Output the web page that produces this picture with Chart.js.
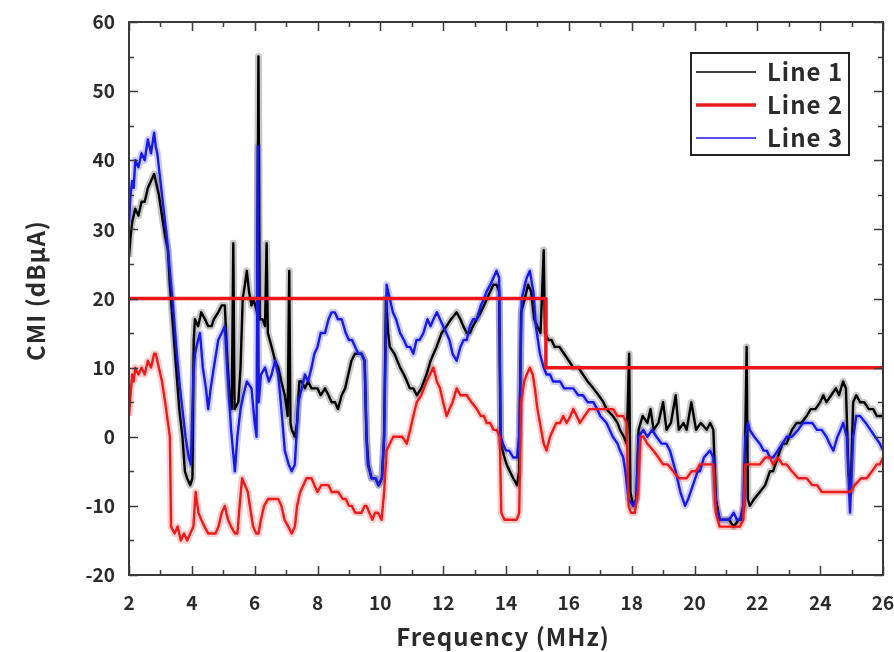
<!DOCTYPE html>
<html>
<head>
<meta charset="utf-8">
<title>CMI</title>
<script src="https://cdn.jsdelivr.net/npm/chart.js@4.4.0/dist/chart.umd.min.js"></script>
<style>
  html, body { margin: 0; padding: 0; background: #fff; }
  #wrap { width: 894px; height: 652px; }
</style>
</head>
<body>
<div id="wrap"><canvas id="cmiChart"></canvas></div>
<script>
// Axis ticks
const xTicks = [2, 4, 6, 8, 10, 12, 14, 16, 18, 20, 22, 24, 26];
const yTicks = [-20, -10, 0, 10, 20, 30, 40, 50, 60];

// Limit line (dBuA), step at ~15.3 MHz
const limitLine = [[2, 20], [15.27, 20], [15.27, 10], [26, 10]];

// Line 1 (black) [MHz, dBuA]
const line1 = [
  [2.00, 26], [2.05, 29], [2.10, 31], [2.20, 33], [2.30, 32], [2.40, 34], [2.50, 34], [2.60, 36],
  [2.70, 37], [2.80, 38], [2.85, 37], [2.95, 35], [3.05, 32], [3.15, 29], [3.24, 27], [3.30, 22],
  [3.40, 16], [3.50, 10], [3.60, 4], [3.70, 0], [3.78, -5], [3.85, -6], [3.95, -7], [4.02, -6],
  [4.06, 14], [4.10, 17], [4.20, 16], [4.30, 18], [4.42, 17], [4.52, 16], [4.63, 16], [4.70, 17],
  [4.84, 18], [4.95, 19], [5.05, 19], [5.12, 12], [5.20, 6], [5.27, 4], [5.32, 28], [5.36, 4],
  [5.48, 5], [5.55, 10], [5.62, 20], [5.69, 22], [5.75, 24], [5.82, 21], [5.90, 19], [5.95, 20],
  [6.02, 19], [6.08, 18], [6.12, 55], [6.16, 17], [6.25, 17], [6.33, 16], [6.38, 28], [6.42, 15],
  [6.54, 13], [6.65, 11], [6.75, 10], [6.85, 8], [6.96, 6], [7.05, 3], [7.10, 24], [7.14, 2],
  [7.18, 1], [7.28, 0], [7.35, 2], [7.42, 8], [7.50, 8], [7.60, 7], [7.70, 8], [7.81, 7],
  [7.90, 7], [8.00, 7], [8.10, 6], [8.24, 7], [8.35, 6], [8.45, 5], [8.56, 5], [8.65, 4],
  [8.77, 6], [8.88, 7], [8.98, 9], [9.08, 11], [9.19, 12], [9.30, 12], [9.40, 12], [9.50, 11],
  [9.56, 0], [9.62, -4], [9.72, -6], [9.85, -6], [9.95, -7], [10.05, -6], [10.12, 0], [10.18, 20],
  [10.25, 15], [10.30, 13], [10.45, 12], [10.63, 10], [10.75, 9], [10.85, 8], [10.94, 7], [11.05, 7],
  [11.16, 6], [11.30, 7], [11.47, 9], [11.60, 11], [11.79, 13], [11.95, 15], [12.11, 16], [12.25, 17],
  [12.43, 18], [12.55, 17], [12.64, 16], [12.75, 15], [12.85, 15], [12.95, 16], [13.07, 17], [13.20, 18],
  [13.30, 19], [13.40, 20], [13.50, 21], [13.60, 22], [13.70, 22], [13.78, 21], [13.83, -1], [13.95, -3],
  [14.02, -4], [14.12, -5], [14.23, -6], [14.35, -7], [14.42, -5], [14.48, 18], [14.60, 20], [14.70, 22],
  [14.80, 21], [14.90, 17], [15.00, 16], [15.10, 15], [15.20, 27], [15.24, 15], [15.35, 14], [15.45, 14],
  [15.55, 13], [15.70, 13], [15.85, 12], [16.00, 11], [16.14, 10], [16.30, 10], [16.45, 9], [16.60, 8],
  [16.78, 7], [16.95, 6], [17.10, 5], [17.20, 4], [17.40, 3], [17.55, 2], [17.63, 1], [17.75, 0],
  [17.84, -1], [17.92, 12], [17.96, -8], [18.05, -10], [18.15, -9], [18.22, 1], [18.35, 3], [18.50, 2],
  [18.60, 4], [18.70, 1], [18.85, 2], [19.00, 5], [19.11, 1], [19.25, 2], [19.40, 6], [19.50, 1],
  [19.65, 2], [19.75, 1], [19.90, 5], [20.05, 1], [20.20, 2], [20.39, 1], [20.50, 2], [20.60, 1],
  [20.68, -9], [20.80, -12], [20.95, -12], [21.10, -12], [21.25, -13], [21.40, -12], [21.50, -12], [21.58, -10],
  [21.66, 13], [21.70, -9], [21.76, -10], [21.90, -9], [22.08, -8], [22.25, -7], [22.40, -5], [22.50, -5],
  [22.65, -3], [22.80, -1], [22.93, -1], [23.10, 1], [23.25, 2], [23.40, 2], [23.57, 3], [23.70, 4],
  [23.85, 4], [24.00, 5], [24.10, 6], [24.20, 5], [24.35, 6], [24.50, 7], [24.60, 6], [24.73, 8],
  [24.82, 7], [24.90, -5], [24.97, -8], [25.05, 5], [25.15, 6], [25.27, 5], [25.40, 5], [25.55, 4],
  [25.69, 4], [25.80, 3], [25.90, 3], [26.00, 3]
];

// Line 2 (red) [MHz, dBuA]
const line2 = [
  [2.00, 3], [2.05, 6], [2.10, 9], [2.15, 8], [2.20, 10], [2.30, 9], [2.40, 10], [2.50, 9],
  [2.60, 11], [2.70, 10], [2.80, 12], [2.85, 12], [2.95, 10], [3.05, 8], [3.15, 5], [3.24, 2],
  [3.30, 0], [3.34, -13], [3.45, -14], [3.55, -13], [3.65, -15], [3.75, -14], [3.85, -15], [3.95, -14],
  [4.05, -13], [4.12, -8], [4.21, -11], [4.30, -12], [4.40, -13], [4.52, -14], [4.63, -14], [4.75, -14],
  [4.85, -13], [4.95, -11], [5.05, -10], [5.15, -12], [5.25, -13], [5.37, -14], [5.45, -14], [5.52, -10],
  [5.60, -6], [5.69, -7], [5.78, -8], [5.88, -11], [5.95, -13], [6.05, -14], [6.12, -14], [6.20, -12],
  [6.30, -10], [6.43, -9], [6.55, -9], [6.65, -9], [6.75, -9], [6.85, -10], [6.95, -12], [7.07, -13],
  [7.18, -14], [7.28, -13], [7.35, -10], [7.45, -8], [7.55, -7], [7.65, -6], [7.81, -6], [7.90, -7],
  [8.00, -8], [8.12, -7], [8.24, -7], [8.35, -7], [8.45, -8], [8.56, -8], [8.66, -8], [8.80, -9],
  [8.90, -9], [9.00, -10], [9.09, -10], [9.20, -11], [9.30, -11], [9.40, -11], [9.50, -10], [9.56, -10],
  [9.65, -11], [9.75, -12], [9.83, -11], [9.93, -11], [10.04, -12], [10.12, -8], [10.20, -2], [10.30, -1],
  [10.41, 0], [10.55, 0], [10.70, 0], [10.84, -1], [10.95, 1], [11.05, 3], [11.16, 5], [11.30, 6],
  [11.47, 8], [11.58, 9], [11.69, 10], [11.80, 8], [11.90, 7], [12.00, 5], [12.11, 3], [12.20, 4],
  [12.30, 5], [12.43, 7], [12.55, 6], [12.65, 6], [12.75, 6], [12.90, 5], [13.07, 4], [13.20, 3],
  [13.30, 3], [13.38, 2], [13.50, 2], [13.60, 1], [13.70, 1], [13.80, 0], [13.85, -11], [13.95, -12],
  [14.05, -12], [14.20, -12], [14.34, -12], [14.42, -11], [14.48, 5], [14.58, 8], [14.66, 9], [14.76, 10],
  [14.85, 9], [14.92, 7], [15.00, 4], [15.08, 2], [15.20, -1], [15.29, -2], [15.40, 0], [15.50, 1],
  [15.60, 2], [15.72, 2], [15.82, 3], [15.93, 2], [16.05, 3], [16.14, 4], [16.25, 3], [16.35, 2],
  [16.50, 3], [16.65, 4], [16.78, 4], [16.90, 4], [17.05, 4], [17.20, 4], [17.41, 4], [17.55, 3],
  [17.73, 3], [17.84, 2], [17.90, -10], [17.98, -11], [18.10, -11], [18.20, -8], [18.28, 0], [18.37, 0],
  [18.50, -1], [18.69, -2], [18.85, -3], [19.00, -4], [19.15, -4], [19.32, -5], [19.50, -6], [19.60, -6],
  [19.75, -6], [19.90, -5], [20.05, -5], [20.17, -4], [20.35, -4], [20.50, -4], [20.60, -4], [20.68, -11],
  [20.80, -13], [20.90, -13], [21.05, -13], [21.20, -13], [21.30, -13], [21.45, -13], [21.55, -12], [21.62, -4],
  [21.76, -4], [21.90, -4], [22.08, -4], [22.25, -3], [22.40, -3], [22.50, -4], [22.65, -3], [22.80, -4],
  [22.93, -4], [23.10, -5], [23.30, -6], [23.45, -6], [23.57, -6], [23.75, -7], [23.90, -7], [24.05, -8],
  [24.20, -8], [24.35, -8], [24.50, -8], [24.63, -8], [24.80, -8], [24.95, -8], [25.10, -7], [25.30, -6],
  [25.48, -6], [25.65, -5], [25.80, -4], [25.90, -4], [26.00, -3]
];

// Line 3 (blue) [MHz, dBuA]
const line3 = [
  [2.00, 31], [2.05, 35], [2.10, 37], [2.15, 36], [2.20, 40], [2.30, 39], [2.40, 41], [2.50, 40],
  [2.60, 43], [2.70, 41], [2.80, 44], [2.85, 42], [2.90, 41], [3.00, 37], [3.10, 33], [3.20, 29],
  [3.30, 24], [3.40, 19], [3.50, 13], [3.60, 8], [3.70, 4], [3.80, 0], [3.90, -3], [3.97, -4],
  [4.05, 9], [4.10, 12], [4.20, 14], [4.26, 15], [4.35, 10], [4.45, 7], [4.52, 4], [4.60, 7],
  [4.70, 10], [4.84, 14], [4.95, 15], [5.05, 16], [5.15, 8], [5.25, 1], [5.37, -5], [5.45, 0],
  [5.55, 4], [5.64, 6], [5.75, 8], [5.90, 7], [6.00, 2], [6.06, 0], [6.10, 42], [6.13, 5],
  [6.20, 9], [6.33, 10], [6.45, 8], [6.54, 9], [6.65, 11], [6.75, 9], [6.85, 4], [6.96, -2],
  [7.08, -4], [7.18, -5], [7.28, -4], [7.39, 5], [7.50, 7], [7.60, 9], [7.70, 8], [7.81, 10],
  [7.90, 12], [8.00, 13], [8.10, 15], [8.24, 15], [8.35, 17], [8.45, 18], [8.55, 18], [8.65, 17],
  [8.77, 17], [8.90, 15], [9.00, 14], [9.10, 14], [9.20, 13], [9.30, 12], [9.40, 12], [9.50, 11],
  [9.56, 0], [9.60, -4], [9.72, -6], [9.85, -6], [9.93, -7], [10.05, -6], [10.12, 0], [10.20, 22],
  [10.30, 20], [10.40, 18], [10.50, 17], [10.63, 15], [10.75, 14], [10.85, 13], [10.95, 13], [11.05, 12],
  [11.15, 14], [11.25, 14], [11.37, 15], [11.50, 17], [11.60, 16], [11.69, 17], [11.80, 18], [11.90, 17],
  [12.00, 16], [12.10, 15], [12.20, 14], [12.30, 12], [12.43, 11], [12.55, 13], [12.65, 14], [12.75, 14],
  [12.85, 16], [12.95, 17], [13.07, 17], [13.20, 19], [13.30, 20], [13.38, 21], [13.50, 22], [13.60, 23],
  [13.70, 24], [13.78, 23], [13.83, 0], [13.90, -1], [14.00, -2], [14.10, -2], [14.23, -3], [14.35, -3],
  [14.42, 0], [14.50, 20], [14.60, 22], [14.66, 23], [14.76, 24], [14.87, 21], [14.95, 16], [15.08, 12],
  [15.20, 10], [15.29, 9], [15.40, 9], [15.50, 8], [15.60, 8], [15.72, 8], [15.85, 7], [16.00, 7],
  [16.14, 7], [16.30, 6], [16.45, 6], [16.60, 5], [16.78, 5], [16.90, 4], [17.00, 3], [17.20, 2],
  [17.40, 0], [17.55, -1], [17.63, -2], [17.73, -3], [17.80, -5], [17.90, -9], [18.05, -10], [18.15, -9],
  [18.22, 0], [18.37, 1], [18.50, 0], [18.65, 1], [18.79, 0], [18.95, -1], [19.10, -1], [19.22, -2],
  [19.40, -5], [19.55, -8], [19.70, -10], [19.80, -9], [19.95, -7], [20.10, -5], [20.17, -5], [20.30, -3],
  [20.49, -2], [20.60, -3], [20.68, -10], [20.81, -12], [20.95, -12], [21.10, -12], [21.25, -11], [21.35, -12],
  [21.45, -12], [21.55, -10], [21.62, 0], [21.70, 2], [21.76, 1], [21.90, 0], [22.08, -1], [22.20, -2],
  [22.30, -2], [22.40, -3], [22.50, -3], [22.65, -2], [22.80, -1], [22.93, 0], [23.10, 0], [23.30, 1],
  [23.45, 2], [23.57, 2], [23.75, 2], [23.90, 1], [24.05, 1], [24.20, 0], [24.30, -1], [24.42, -2],
  [24.55, 0], [24.65, 1], [24.73, 2], [24.85, 0], [24.95, -11], [25.05, 0], [25.15, 3], [25.27, 3],
  [25.45, 2], [25.60, 1], [25.75, 0], [25.90, -1], [26.00, -2]
];

const toPoints = arr => arr.map(p => ({ x: p[0], y: p[1] }));

// Frame and inward tick marks on all four sides
const frameTicks = {
  id: 'frameTicks',
  afterDatasetsDraw(chart) {
    const { ctx, chartArea: a, scales: { x, y } } = chart;
    ctx.save();
    ctx.strokeStyle = '#3a3a3a';
    ctx.lineWidth = 2;
    ctx.strokeRect(a.left, a.top, a.right - a.left, a.bottom - a.top);
    ctx.lineWidth = 1.5;
    ctx.beginPath();
    for (let f = xTicks[0]; f <= xTicks[xTicks.length - 1]; f += 1) {
      const px = Math.round(x.getPixelForValue(f)) + 0.5;
      const len = (f % 2 === 0) ? 9 : 5;
      ctx.moveTo(px, a.bottom); ctx.lineTo(px, a.bottom - len);
      ctx.moveTo(px, a.top); ctx.lineTo(px, a.top + len);
    }
    for (let v = yTicks[0]; v <= yTicks[yTicks.length - 1]; v += 5) {
      const py = Math.round(y.getPixelForValue(v)) + 0.5;
      const len = (v % 10 === 0) ? 9 : 5;
      ctx.moveTo(a.left, py); ctx.lineTo(a.left + len, py);
      ctx.moveTo(a.right, py); ctx.lineTo(a.right - len, py);
    }
    ctx.stroke();
    ctx.restore();
  }
};

const fontFamily = '"Noto Sans CJK JP", "Noto Sans", sans-serif';

// Boxed legend in the top right of the plot, plus the two axis titles
const boxLegend = {
  id: 'boxLegend',
  afterDraw(chart) {
    const { ctx, chartArea: a, scales: { x, y } } = chart;
    const items = chart.data.datasets.filter(d => d.inLegend);
    const w = 158, h = 102;
    const left = a.right - 34 - w, top = a.top + 31;
    ctx.save();
    ctx.fillStyle = '#fff';
    ctx.fillRect(left, top, w, h);
    ctx.strokeStyle = '#222';
    ctx.lineWidth = 2;
    ctx.strokeRect(left, top, w, h);
    ctx.font = 'bold 24px ' + fontFamily;
    ctx.letterSpacing = '1px';
    ctx.textBaseline = 'middle';
    ctx.fillStyle = '#2a2a2a';
    items.forEach((d, i) => {
      const yy = top + 19 + i * 33;
      ctx.strokeStyle = d.borderColor;
      ctx.lineWidth = d.legendWidth;
      ctx.beginPath();
      ctx.moveTo(left + 5, yy);
      ctx.lineTo(left + 65, yy);
      ctx.stroke();
      ctx.fillText(d.label, left + 76, yy);
    });

    // axis titles
    ctx.font = 'bold 24px ' + fontFamily;
    ctx.letterSpacing = '1px';
    ctx.textAlign = 'center';
    ctx.fillText(x.options.title.text, a.left + (a.right - a.left) / 2 - 3, 637);
    ctx.translate(36, a.top + (a.bottom - a.top) / 2 - 8);
    ctx.rotate(-Math.PI / 2);
    ctx.fillText(y.options.title.text, 0, 0);
    ctx.restore();
  }
};

const halo = (c) => c.replace('rgb(', 'rgba(').replace(')', ',0.22)');

const black = 'rgb(0,0,0)', red = 'rgb(232,28,28)', blue = 'rgb(25,25,228)';

new Chart(document.getElementById('cmiChart'), {
  type: 'line',
  data: {
    datasets: [
      { label: 'Limit', data: toPoints(limitLine), borderColor: 'rgb(236,22,26)', borderWidth: 3.5, order: 0 },
      { label: 'Line 1', data: toPoints(line1), borderColor: black, borderWidth: 2.4, order: 3, inLegend: true, legendWidth: 1.5 },
      { label: 'Line 2', data: toPoints(line2), borderColor: red, borderWidth: 2.4, order: 1, inLegend: true, legendWidth: 3.5 },
      { label: 'Line 3', data: toPoints(line3), borderColor: blue, borderWidth: 2.4, order: 2, inLegend: true, legendWidth: 1.5 },
      { label: 'Line 1 band', data: toPoints(line1), borderColor: halo(black), borderWidth: 7, order: 6 },
      { label: 'Line 2 band', data: toPoints(line2), borderColor: halo(red), borderWidth: 7, order: 4 },
      { label: 'Line 3 band', data: toPoints(line3), borderColor: halo(blue), borderWidth: 7, order: 5 }
    ]
  },
  options: {
    responsive: true,
    maintainAspectRatio: false,
    animation: false,
    parsing: false,
    elements: { point: { radius: 0 }, line: { tension: 0, borderJoinStyle: 'round' } },
    layout: { padding: { top: 22, right: 11, left: 0, bottom: 0 } },
    plugins: { legend: { display: false }, tooltip: { enabled: false } },
    scales: {
      x: {
        type: 'linear',
        min: xTicks[0],
        max: xTicks[xTicks.length - 1],
        afterBuildTicks: s => { s.ticks = xTicks.map(v => ({ value: v })); },
        afterFit: s => { s.height = 77; s.paddingLeft = 0; s.paddingRight = 0; },
        grid: { display: false, drawTicks: false },
        border: { display: false },
        ticks: { padding: 16, color: '#2a2a2a', font: { family: fontFamily, size: 19, weight: 'bold' } },
        title: { display: false, text: 'Frequency (MHz)' }
      },
      y: {
        type: 'linear',
        min: yTicks[0],
        max: yTicks[yTicks.length - 1],
        afterBuildTicks: s => { s.ticks = yTicks.map(v => ({ value: v })); },
        afterFit: s => { s.width = 129; s.paddingTop = 0; s.paddingBottom = 0; },
        grid: { display: false, drawTicks: false },
        border: { display: false },
        ticks: { padding: 14, color: '#2a2a2a', font: { family: fontFamily, size: 19, weight: 'bold' } },
        title: { display: false, text: 'CMI (dBμA)' }
      }
    }
  },
  plugins: [frameTicks, boxLegend]
});
</script>
</body>
</html>
